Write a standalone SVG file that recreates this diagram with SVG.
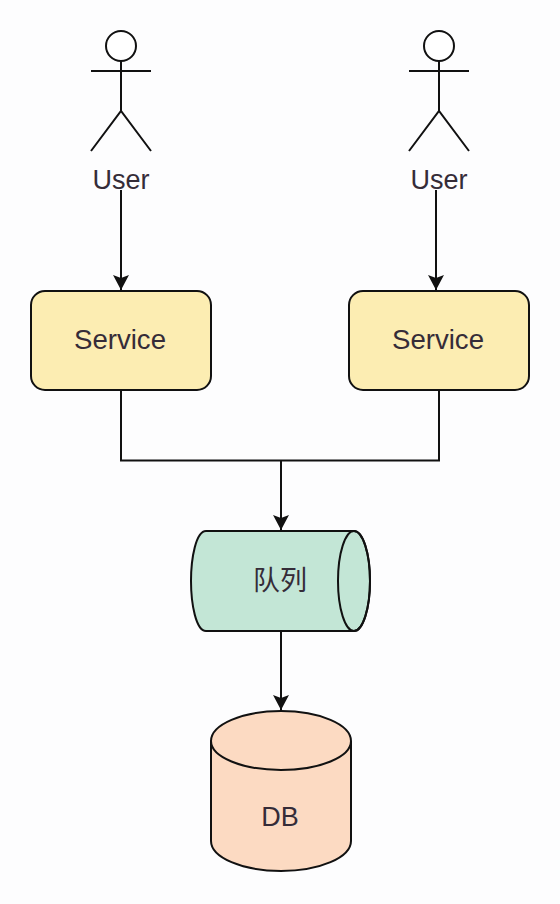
<svg xmlns="http://www.w3.org/2000/svg" width="560" height="904" viewBox="0 0 560 904">
<style>
.s{fill:none;stroke:#111;stroke-width:2}
.b{stroke:#111;stroke-width:2}
.t{font-family:"Liberation Sans","Noto Sans CJK SC",sans-serif;font-size:27px;text-anchor:middle;fill:#352c38}
.l{font-size:27.6px}
</style>
<defs>
<marker id="a" markerUnits="userSpaceOnUse" markerWidth="18" markerHeight="18" refX="15" refY="8" orient="auto"><path d="M0 0L15 8L0 16L3 8Z" fill="#111"/></marker>
<g id="actor"><circle cx="0" cy="45" r="15" fill="#fff" class="b"/><path class="s" d="M0 60V110M-30 70H30M-30 150L0 110L30 150"/></g>
</defs>
<rect width="560" height="904" fill="#fdfdfe"/>
<g id="user1"><use href="#actor" x="121" y="1"/><text class="t" x="121" y="189">User</text></g>
<g id="user2"><use href="#actor" x="439" y="1"/><text class="t" x="439" y="189">User</text></g>
<g id="service1"><rect x="31" y="291" width="180" height="99" rx="14" fill="#fcedb2" class="b"/><text class="t l" x="120" y="349">Service</text></g>
<g id="service2"><rect x="349" y="291" width="180" height="99" rx="14" fill="#fcedb2" class="b"/><text class="t l" x="438" y="349">Service</text></g>
<g id="queue"><path d="M206 531H354A16 50 0 0 1 354 631H206C196 631 191 604 191 581C191 558 196 531 206 531Z" fill="#c3e6d6" class="b"/><ellipse cx="354" cy="581" rx="16" ry="50" class="s"/><text class="t" x="280" y="590">队列</text></g>
<g id="db"><path d="M211 741A70 30 0 0 1 351 741V841A70 30 0 0 1 211 841Z" fill="#fcdac2" class="b"/><path d="M211 741A70 29 0 0 0 351 741" class="s"/><text class="t" x="280" y="826">DB</text></g>
<g id="connectors">
<path class="s" d="M121 190V290" marker-end="url(#a)"/>
<path class="s" d="M436 190V290" marker-end="url(#a)"/>
<path class="s" d="M121 390V460.500H439V390"/>
<path class="s" d="M281 460V530" marker-end="url(#a)"/>
<path class="s" d="M281 631V710" marker-end="url(#a)"/>
</g>
</svg>
